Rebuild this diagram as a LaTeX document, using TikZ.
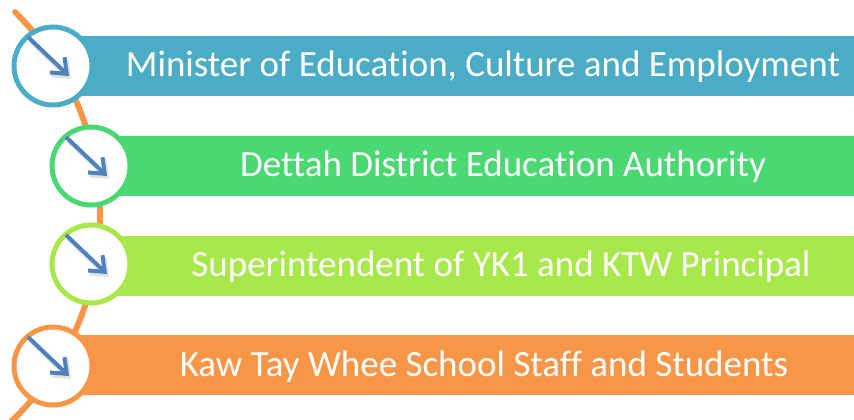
\documentclass[tikz,border=0pt]{standalone}
\usepackage{fontspec}
\setmainfont{Carlito}[Ligatures=NoCommon]
\usetikzlibrary{arrows.meta}
\definecolor{ministerblue}{HTML}{4BACC6}
\definecolor{districtgreen}{HTML}{4AD873}
\definecolor{superlime}{HTML}{A9E84A}
\definecolor{staffora}{HTML}{F79646}
\definecolor{pointerblue}{HTML}{4F81BD}

\begin{document}
\begin{tikzpicture}[x=1pt, y=-1pt,
    bar/.style={anchor=west, minimum height=60pt, minimum width=#1, inner sep=0pt},
    ring/.style={circle, draw=#1, line width=5pt, fill=white, minimum size=78pt, inner sep=0pt},
    lbl/.style={text=white, inner sep=0pt, anchor=base, font=\fontsize{37}{44}\selectfont},
    pointer/.style={-{Straight Barb[length=13pt, width=21pt]}, line width=4pt, draw=pointerblue},
    shade/.style={-{Straight Barb[length=13pt, width=21pt]}, line width=5pt, draw=black!30, opacity=0.4}]
        \useasboundingbox (0, 0) rectangle (854, 420);

        \draw[staffora, line width=6pt, line cap=round] (15, 12) arc[start angle=-45.4, end angle=50, radius=285];

        \node[bar=801pt, fill=ministerblue] (b1) at (53, 66) {};
        \node[bar=763pt, fill=districtgreen] (b2) at (91, 165.5) {};
        \node[bar=763pt, fill=superlime] (b3) at (91, 265.5) {};
        \node[bar=801pt, fill=staffora] (b4) at (53, 365) {};

        \node[lbl] (t1) at (483, 77) {Minister of Education, Culture and Employment};
        \node[lbl] (t2) at (503, 176.5) {Dettah District Education Authority};
        \node[lbl] (t3) at (501, 276.5) {Superintendent of YK1 and KTW Principal};
        \node[lbl] (t4) at (484, 376) {Kaw Tay Whee School Staff and Students};

        \node[ring=ministerblue] (c1) at (53, 66) {};
        \node[ring=districtgreen] (c2) at (91, 166) {};
        \node[ring=superlime] (c3) at (91, 264) {};
        \node[ring=staffora] (c4) at (53, 366) {};

        \foreach \c in {c1, c2, c3, c4} {
            \draw[shade] ([shift={(-23, -26)}]\c.center) -- ([shift={(18, 13)}]\c.center);
            \draw[pointer] ([shift={(-25, -29)}]\c.center) -- ([shift={(16, 10)}]\c.center);
        }
    \end{tikzpicture}
\end{document}
